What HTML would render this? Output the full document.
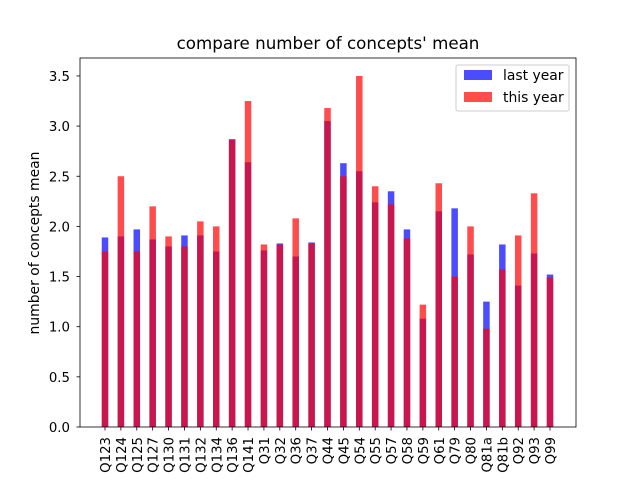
<!DOCTYPE html>
<html><head><meta charset="utf-8"><style>
body{margin:0;background:#fff;}
svg{font-family:"DejaVu Sans","Liberation Sans",sans-serif;}
</style></head><body>
<svg id="chart" width="640" height="480">
<rect width="640" height="480" fill="#fff"/>
<text x="328" y="49" text-anchor="middle" font-size="16.7">compare number of concepts' mean</text>
<text transform="translate(39,243) rotate(-90)" text-anchor="middle" font-size="13.9">number of concepts mean</text>
<g id="bars"></g><g id="axes"></g>
<g>
<rect x="456" y="65" width="113" height="46" fill="#fff" fill-opacity="0.8" stroke="#ccc" rx="2"/>
<rect x="464" y="70" width="28" height="10" fill="#0000ff" fill-opacity="0.7"/>
<text x="503" y="80" font-size="13.9">last year</text>
<rect x="464" y="92" width="28" height="10" fill="#ff0000" fill-opacity="0.7"/>
<text x="503" y="102" font-size="13.9">this year</text>
</g>
</svg>
<script>
const categories=["Q123","Q124","Q125","Q127","Q130","Q131","Q132","Q134","Q136","Q141","Q31","Q32","Q36","Q37","Q44","Q45","Q54","Q55","Q57","Q58","Q59","Q61","Q79","Q80","Q81a","Q81b","Q92","Q93","Q99"];
const lastYear=[1.89,1.90,1.97,1.87,1.80,1.91,1.91,1.75,2.87,2.64,1.76,1.83,1.70,1.84,3.05,2.63,2.55,2.24,2.35,1.97,1.08,2.15,2.18,1.72,1.25,1.82,1.41,1.73,1.52];
const thisYear=[1.75,2.50,1.75,2.20,1.90,1.80,2.05,2.00,2.86,3.25,1.82,1.82,2.08,1.83,3.18,2.50,3.50,2.40,2.22,1.88,1.22,2.43,1.50,2.00,0.98,1.57,1.91,2.33,1.49];
const yTicks=[0,0.5,1,1.5,2,2.5,3,3.5];
const NS="http://www.w3.org/2000/svg";
const L=80,R=576,T=58,B=427;
const y=v=>B-v*100.3;
const x=i=>105+i*(550-105)/(categories.length-1);
const bw=6.5;
function mk(t,a,p){const e=document.createElementNS(NS,t);for(const k in a)e.setAttribute(k,a[k]);p.appendChild(e);return e;}
const bars=document.getElementById('bars'),axes=document.getElementById('axes');
lastYear.forEach((v,i)=>{const r=mk('rect',{x:x(i)-bw/2,y:y(v),width:bw,height:B-y(v),fill:'#0000ff','fill-opacity':0.7},bars);

});
thisYear.forEach((v,i)=>{const r=mk('rect',{x:x(i)-bw/2,y:y(v),width:bw,height:B-y(v),fill:'#ff0000','fill-opacity':0.7},bars);

});
const fr=mk('rect',{x:L,y:T,width:R-L,height:B-T,fill:'none',stroke:'#000','stroke-width':0.8},axes);


yTicks.forEach(t=>{mk('line',{x1:L-3.5,x2:L,y1:y(t),y2:y(t),stroke:'#000','stroke-width':0.8},axes);
const tx=mk('text',{x:L-10,y:y(t)+5,'text-anchor':'end','font-size':13.3},axes);tx.textContent=t.toFixed(1);

});
categories.forEach((c,i)=>{mk('line',{x1:x(i),x2:x(i),y1:B,y2:B+3.5,stroke:'#000','stroke-width':0.8},axes);
const tx=mk('text',{transform:`translate(${x(i)+5},${B+10}) rotate(-90)`,'text-anchor':'end','font-size':13.3},axes);tx.textContent=c;

});
</script>
</body></html>
